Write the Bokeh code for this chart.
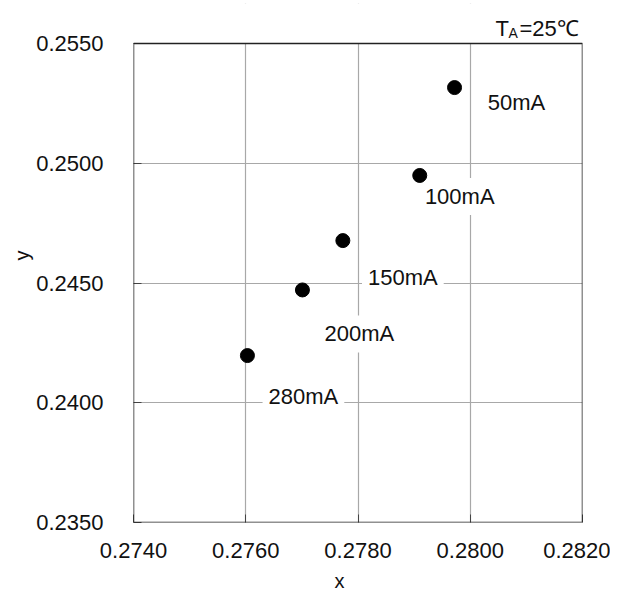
from bokeh.plotting import figure
from bokeh.models import (ColumnDataSource, Label, Range1d, FixedTicker, CustomJSTickFormatter,
                          Title, BoxAnnotation)
from bokeh.core.properties import value
from bokeh.embed import file_html
from bokeh.resources import INLINE

# data
currents = ["50mA", "100mA", "150mA", "200mA", "280mA"]
cx = [0.27972, 0.27910, 0.27773, 0.27701, 0.27603]
cy = [0.25316, 0.24949, 0.24677, 0.24471, 0.24197]
x_ticks = [0.2740, 0.2760, 0.2780, 0.2800, 0.2820]
y_ticks = [0.2350, 0.2400, 0.2450, 0.2500, 0.2550]

# label offsets (pixels) from each point
lab_dx = [62, 40, 60, 57, 56]
lab_dy = [15, 21, 37, 44, 41]

FONT = "Liberation Sans"
W, H = 610, 601
BOX_H = 479      # pixel height of the boxed plot area
TOP_PAD = 40     # extra pixels above the box (for the condition text)

y_span = y_ticks[-1] - y_ticks[0]
y_end = y_ticks[-1] + y_span * TOP_PAD / BOX_H

src = ColumnDataSource(dict(x=cx, y=cy, t=currents, dx=lab_dx, dy=lab_dy))

p = figure(width=W, height=H, output_backend="svg", toolbar_location=None,
           x_range=Range1d(x_ticks[0], x_ticks[-1]), y_range=Range1d(y_ticks[0], y_end),
           min_border_left=133, min_border_right=28, min_border_top=43 - TOP_PAD,
           min_border_bottom=79)
p.background_fill_color = "white"
p.border_fill_color = "white"
p.outline_line_color = None

for ax, ticks in ((p.xaxis, x_ticks), (p.yaxis, y_ticks)):
    ax.ticker = FixedTicker(ticks=ticks)
    ax.formatter = CustomJSTickFormatter(code="return tick.toFixed(4);")
    ax.axis_line_color = None
    ax.major_tick_in = 8
    ax.major_tick_out = 0
    ax.major_tick_line_color = "#444444"
    ax.minor_tick_line_color = None
    ax.major_label_text_font = FONT
    ax.major_label_text_font_size = "22px"
    ax.major_label_text_color = "#111111"
p.xaxis.major_label_standoff = 20
p.yaxis.major_label_standoff = 30

p.grid.grid_line_color = "#a8a8a8"
p.grid.grid_line_width = 1.2

# white cover above the box so grid lines stop at the box top
p.add_layout(BoxAnnotation(bottom=y_ticks[-1], fill_color="white", fill_alpha=1.0,
                           line_color=None, level="underlay"))
# the box outline
p.add_layout(BoxAnnotation(left=x_ticks[0], right=x_ticks[-1], bottom=y_ticks[0], top=y_ticks[-1],
                           fill_alpha=0, line_color="#222222", line_width=1.5, line_alpha=1.0))

p.text(x="x", y="y", text="t", source=src, x_offset="dx", y_offset="dy",
       text_align="center", text_baseline="middle",
       text_font=value(FONT), text_font_size="22px", text_color="#111111",
       background_fill_color="white", padding=6)

p.scatter(x="x", y="y", source=src, size=14, color="black")

# axis titles as side-panel titles with offsets
p.add_layout(Title(text="x", align="left", offset=201, standoff=14,
                   text_font=FONT, text_font_size="20px", text_font_style="normal",
                   text_color="#111111"), "below")
p.add_layout(Title(text="y", align="left", offset=262, standoff=2,
                   text_font=FONT, text_font_size="20px", text_font_style="normal",
                   text_color="#111111"), "left")

# condition text (screen units relative to the plot frame)
for txt, lx, ly, fs in (("T", 362, 494, "22px"), ("A", 375, 490, "14px"), ("=25℃", 386, 494, "22px")):
    p.add_layout(Label(x=lx, y=ly, x_units="screen", y_units="screen", text=txt,
                       text_align="left", text_baseline="alphabetic",
                       text_font=FONT, text_font_size=fs, text_color="#111111"))

open("out.html", "w").write(file_html(p, INLINE))
